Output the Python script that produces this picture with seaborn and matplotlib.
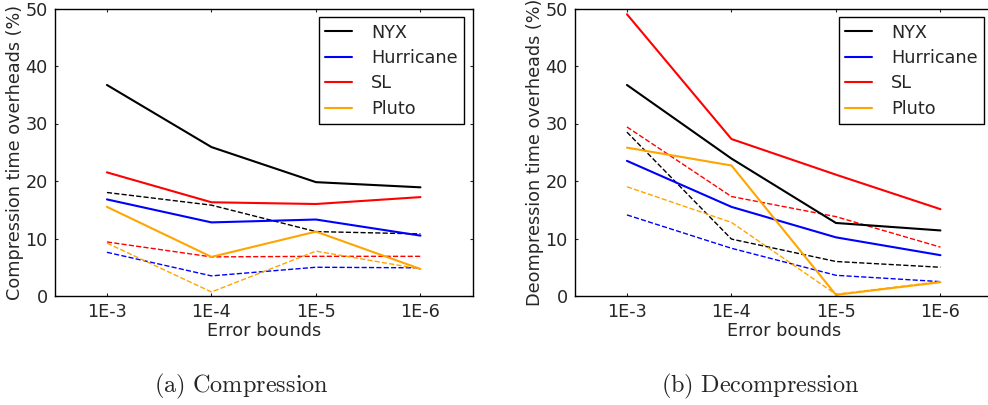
import matplotlib
matplotlib.use("Agg")
import matplotlib.pyplot as plt
import seaborn as sns
import pandas as pd

error_bounds = ["1E-3", "1E-4", "1E-5", "1E-6"]
datasets = ["NYX", "Hurricane", "SL", "Pluto"]
colors = {"NYX": "black", "Hurricane": "blue", "SL": "red", "Pluto": "orange"}

# Compression time overheads (%), solid lines
comp_nyx = [36.7, 25.9, 19.8, 18.9]
comp_hurricane = [16.8, 12.8, 13.3, 10.5]
comp_sl = [21.5, 16.3, 16.0, 17.2]
comp_pluto = [15.5, 6.8, 11.2, 4.7]
# Compression, dashed lines
comp_nyx_d = [18.0, 15.8, 11.2, 10.8]
comp_hurricane_d = [7.6, 3.5, 5.0, 4.9]
comp_sl_d = [9.4, 6.8, 6.9, 6.9]
comp_pluto_d = [9.2, 0.7, 7.8, 4.7]

# Decompression time overheads (%), solid lines
dec_nyx = [36.7, 23.9, 12.7, 11.4]
dec_hurricane = [23.5, 15.5, 10.2, 7.1]
dec_sl = [49.0, 27.3, 21.1, 15.1]
dec_pluto = [25.8, 22.7, 0.2, 2.4]
# Decompression, dashed lines
dec_nyx_d = [28.5, 9.9, 6.0, 5.0]
dec_hurricane_d = [14.1, 8.3, 3.6, 2.5]
dec_sl_d = [29.4, 17.3, 13.8, 8.5]
dec_pluto_d = [19.0, 12.8, 0.3, 2.5]

comp_solid = {"NYX": comp_nyx, "Hurricane": comp_hurricane, "SL": comp_sl, "Pluto": comp_pluto}
comp_dash = {"NYX": comp_nyx_d, "Hurricane": comp_hurricane_d, "SL": comp_sl_d, "Pluto": comp_pluto_d}
dec_solid = {"NYX": dec_nyx, "Hurricane": dec_hurricane, "SL": dec_sl, "Pluto": dec_pluto}
dec_dash = {"NYX": dec_nyx_d, "Hurricane": dec_hurricane_d, "SL": dec_sl_d, "Pluto": dec_pluto_d}

sns.set_style("ticks")
plt.rcParams["font.family"] = ["DejaVu Sans"]
plt.rcParams["mathtext.fontset"] = "cm"

FS = 12.7

fig = plt.figure(figsize=(9.88, 4.05), dpi=100)
W, H = 988.0, 405.0
ax_w = 418.0 / W
ax_h = 287.5 / H
ax_b = (H - 296.0) / H
ax1 = fig.add_axes([54.7 / W, ax_b, ax_w, ax_h])
ax2 = fig.add_axes([574.7 / W, ax_b, ax_w, ax_h])

xs = list(range(len(error_bounds)))

def draw(ax, solid, dash, ylabel, caption, cap_x):
    for name in datasets:
        df = pd.DataFrame({"x": xs, "y": dash[name]})
        sns.lineplot(data=df, x="x", y="y", ax=ax, color=colors[name],
                     linewidth=1.0, legend=False)
    for name in datasets:
        df = pd.DataFrame({"x": xs, "y": solid[name]})
        sns.lineplot(data=df, x="x", y="y", ax=ax, color=colors[name],
                     linewidth=1.5, label=name)
    for ln in ax.lines[:4]:
        ln.set_linestyle("--")
    ax.set_xlim(-0.5, 3.5)
    ax.set_ylim(0, 50)
    ax.set_xticks(xs)
    ax.set_xticklabels(error_bounds, fontsize=FS)
    ax.set_yticks([0, 10, 20, 30, 40, 50])
    ax.set_yticklabels(["0", "10", "20", "30", "40", "50"], fontsize=FS)
    ax.tick_params(direction="in", top=True, right=True, length=2.5, width=0.8, pad=5)
    for s in ax.spines.values():
        s.set_visible(True)
        s.set_linewidth(1.0)
        s.set_color("black")
    ax.set_xlabel("Error bounds", fontsize=FS, labelpad=1)
    ax.set_ylabel(ylabel, fontsize=FS, labelpad=1)
    leg = ax.legend(loc="upper right", fontsize=FS, frameon=True, fancybox=False,
                    handlelength=1.5, borderaxespad=0.5, labelspacing=0.42,
                    handletextpad=1.1, borderpad=0.36)
    leg.get_frame().set_edgecolor("black")
    leg.get_frame().set_linewidth(1.0)
    leg.get_frame().set_alpha(1.0)
    fig.text(cap_x / W, 1 - 386.0 / H, caption, ha="center", va="center", fontsize=17.5)

draw(ax1, comp_solid, comp_dash, "Compression time overheads (%)",
     r"$\mathrm{(a)\ Compression}$", 241)
draw(ax2, dec_solid, dec_dash, "Deompression time overheads (%)",
     r"$\mathrm{(b)\ Decompression}$", 760)

fig.savefig("out.png", dpi=100)
